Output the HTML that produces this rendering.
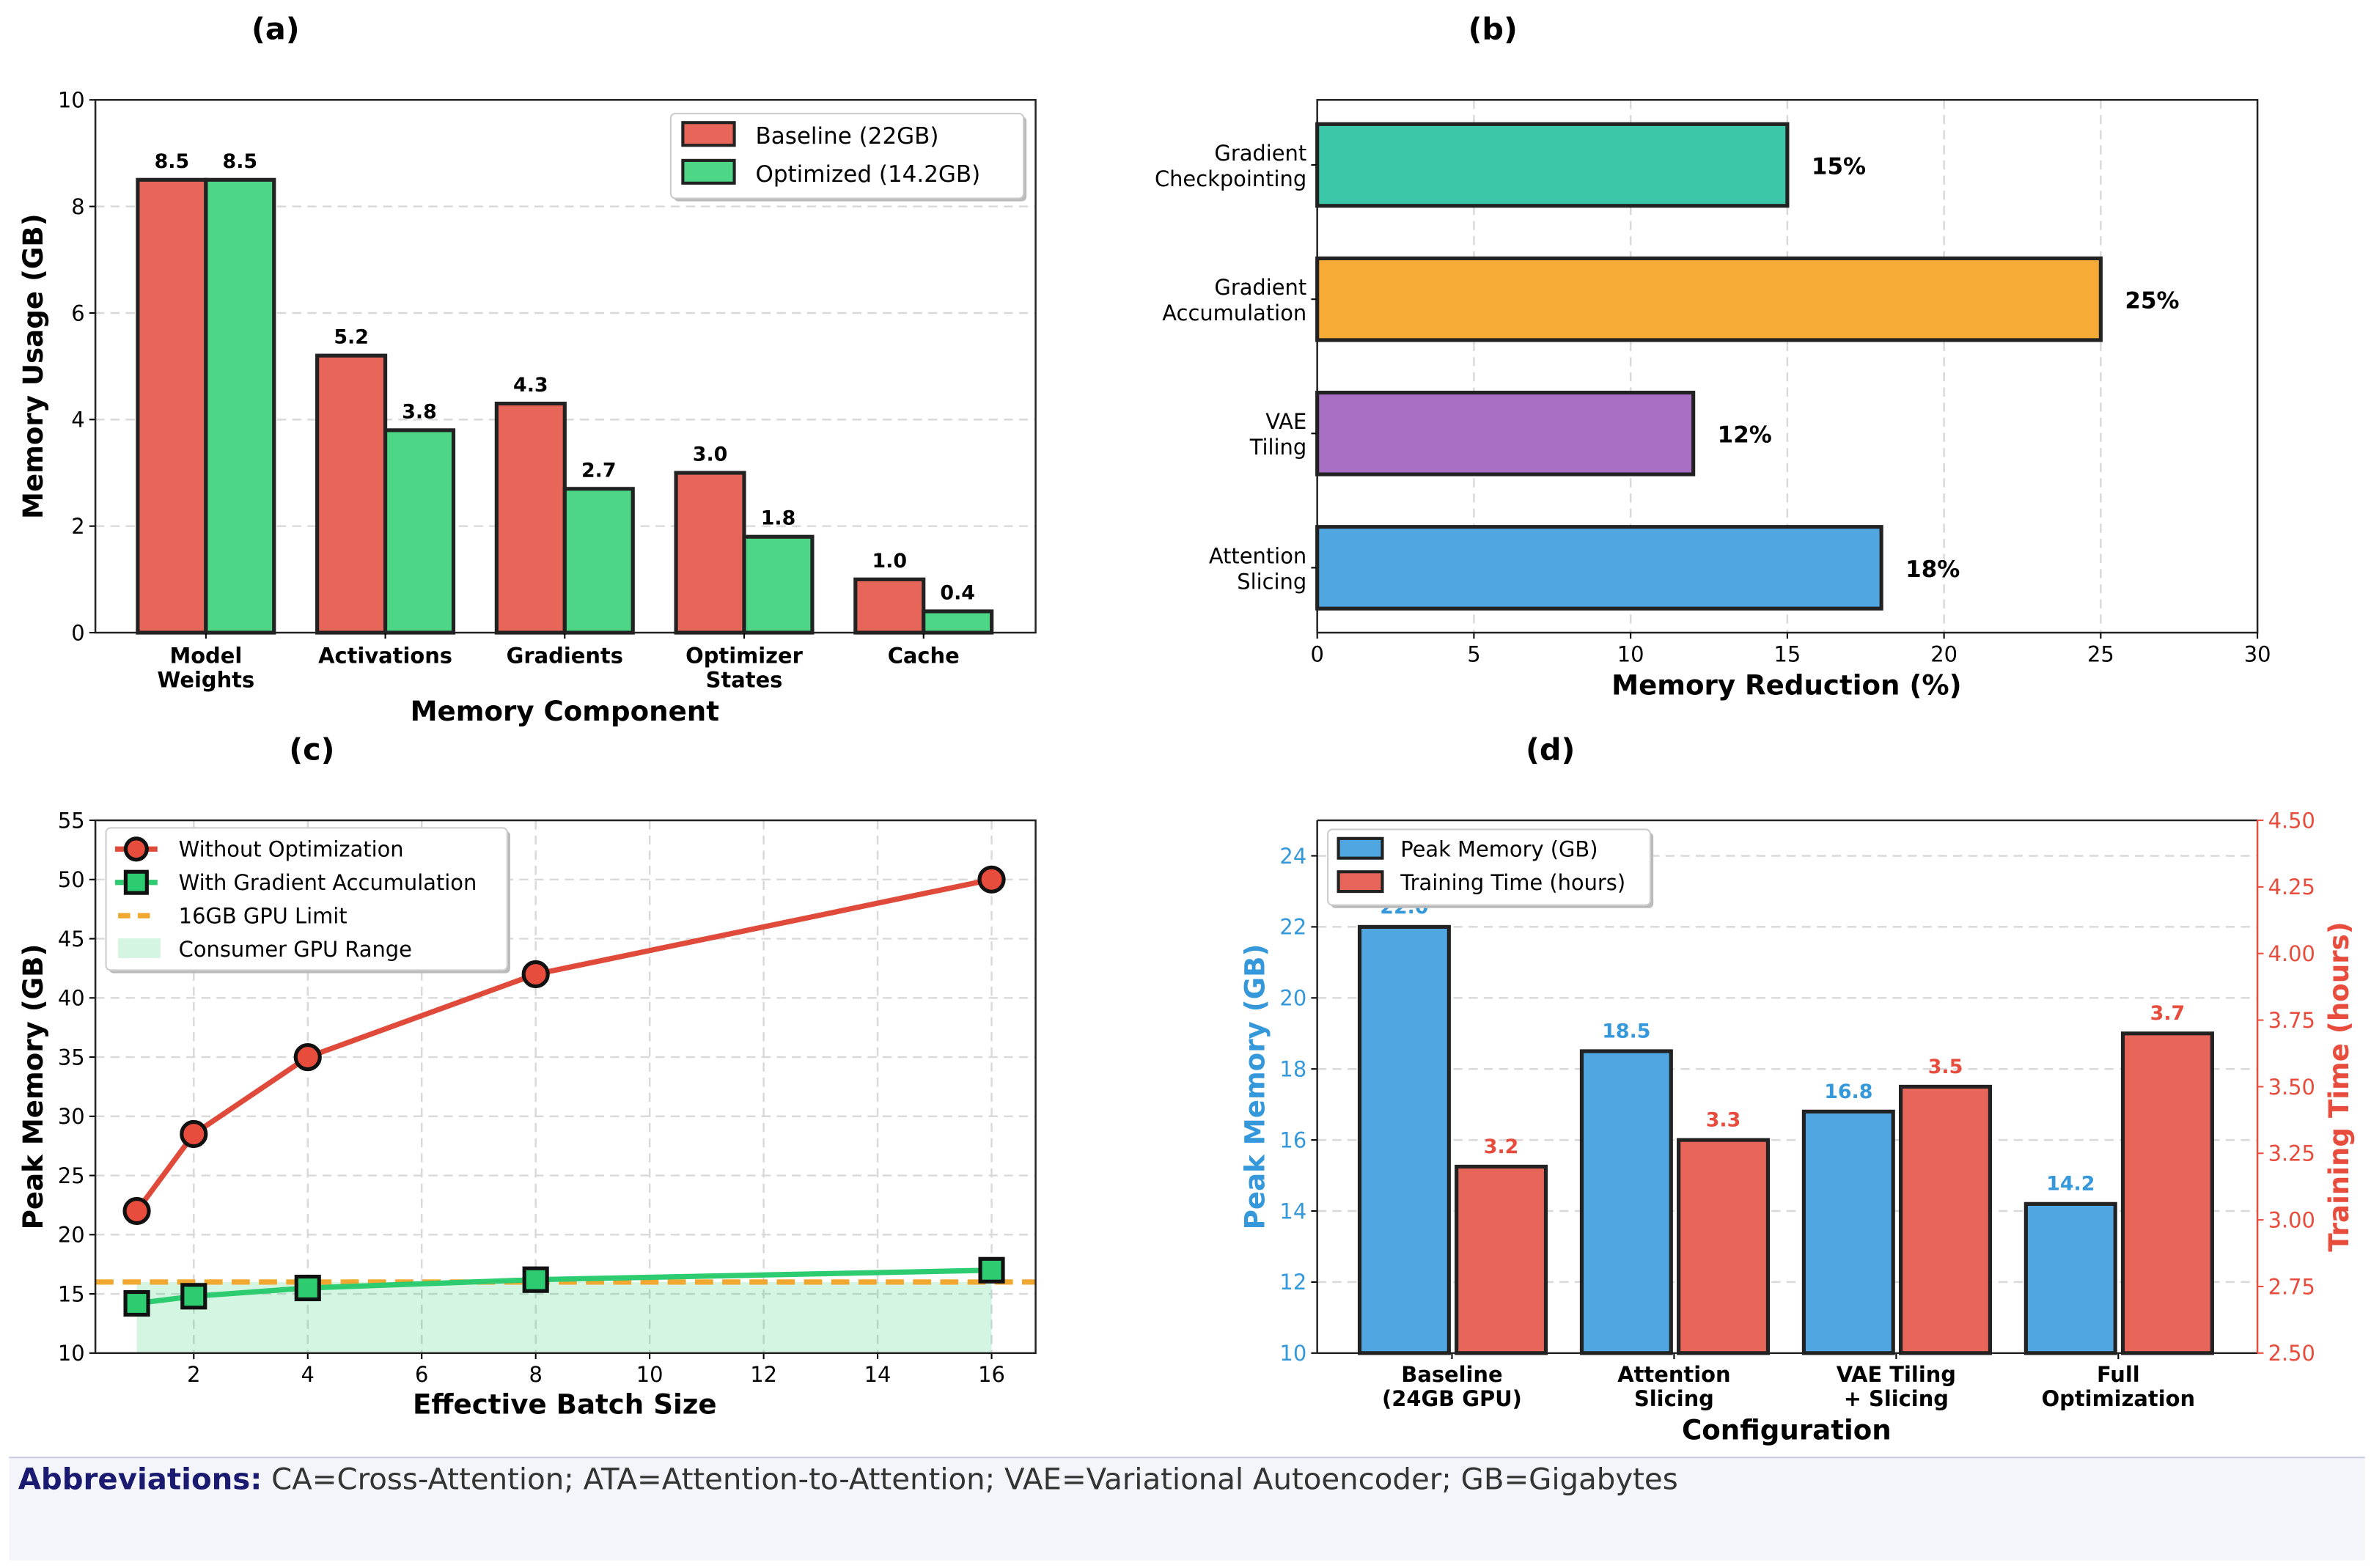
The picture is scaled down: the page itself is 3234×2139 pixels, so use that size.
<!DOCTYPE html>
<html><head><meta charset="utf-8"><style>
html,body{margin:0;padding:0;background:#fff;}
svg{display:block;font-family:"DejaVu Sans","Liberation Sans",sans-serif;}
</style></head><body>
<svg id="fig" width="3234" height="2139" viewBox="0 0 1566 1036" preserveAspectRatio="none" xmlns="http://www.w3.org/2000/svg">
<rect x="0" y="0" width="1566" height="1036" fill="#fff"/>
<rect x="6" y="963" width="1556" height="68" fill="#f4f5fa"/>
<line x1="6" y1="963" x2="1562" y2="963" stroke="#c5cbe0" stroke-width="1"/>
<text x="12" y="984" font-size="19.5" fill="#333"><tspan font-weight="bold" fill="#1a1a70">Abbreviations:</tspan> CA=Cross-Attention; ATA=Attention-to-Attention; VAE=Variational Autoencoder; GB=Gigabytes</text>
</svg>
<script>
// ---- Panel (a) data ----
const aCategories = ["Model|Weights","Activations","Gradients","Optimizer|States","Cache"];
const aBaseline = [8.5, 5.2, 4.3, 3.0, 1.0];
const aOptimized = [8.5, 3.8, 2.7, 1.8, 0.4];
const aTicks = [0,2,4,6,8,10];
// ---- Panel (b) data ----
const bCategories = ["Gradient|Checkpointing","Gradient|Accumulation","VAE|Tiling","Attention|Slicing"];
const bValues = [15, 25, 12, 18];
const bColors = ["#3cc8a8","#f5ab35","#a86fc4","#4fa6e0"];
const bTicks = [0,5,10,15,20,25,30];
// ---- Panel (c) data ----
const cBatch = [1, 2, 4, 8, 16];
const cWithout = [22, 28.5, 35, 42, 50];
const cWith = [14.2, 14.8, 15.5, 16.2, 17];
const cLimit = 16;
const cXTicks = [2,4,6,8,10,12,14,16];
const cYTicks = [10,15,20,25,30,35,40,45,50,55];
// ---- Panel (d) data ----
const dCategories = ["Baseline|(24GB GPU)","Attention|Slicing","VAE Tiling|+ Slicing","Full|Optimization"];
const dMemory = [22.0, 18.5, 16.8, 14.2];
const dTime = [3.2, 3.3, 3.5, 3.7];
const dLeftTicks = [10,12,14,16,18,20,22,24];
const dRightTicks = [2.5,2.75,3.0,3.25,3.5,3.75,4.0,4.25,4.5];

const svg = document.getElementById('fig');
const NS = 'http://www.w3.org/2000/svg';
function mk(tag, attrs, parent){const e=document.createElementNS(NS,tag);for(const k in attrs)e.setAttribute(k,attrs[k]);(parent||svg).appendChild(e);return e;}
function txt(x,y,s,attrs,parent){const t=mk('text',Object.assign({x:x,y:y},attrs),parent);t.textContent=s;return t;}
function multi(x,y,s,lh,attrs,parent){const parts=s.split('|');const g=mk('g',{},parent);parts.forEach((p,i)=>txt(x,y+i*lh,p,attrs,g));return g;}
const GRID='#d9d9d9';

// ================= Panel (a) =================
{
const L=63,R=684,T=66,B=418;
const ya=v=>B-(v/10)*(B-T);
const xa=i=>136+i*118.5;
const t=txt(182,26,'(a)',{'font-size':20,'font-weight':'bold','text-anchor':'middle'});


aTicks.forEach(v=>{
  if(v>0&&v<10){const g=mk('line',{x1:L,x2:R,y1:ya(v),y2:ya(v),stroke:GRID,'stroke-dasharray':'6,4','stroke-width':1.2});
  
  }
  mk('line',{x1:L-4,x2:L,y1:ya(v),y2:ya(v),stroke:'#000'});
  const tl=txt(L-7,ya(v)+5,String(v),{'font-size':14,'text-anchor':'end'});
  
  
});
aCategories.forEach((c,i)=>{
  const cx=xa(i);
  const r=mk('rect',{x:cx-45,y:ya(aBaseline[i]),width:45,height:B-ya(aBaseline[i]),fill:'#e8655a',stroke:'#222','stroke-width':2.5});
  
  
  const g=mk('rect',{x:cx,y:ya(aOptimized[i]),width:45,height:B-ya(aOptimized[i]),fill:'#4cd685',stroke:'#222','stroke-width':2.5});
  
  
  const l1=txt(cx-22.5,ya(aBaseline[i])-8,aBaseline[i].toFixed(1),{'font-size':13,'font-weight':'bold','text-anchor':'middle'});
  
  
  const l2=txt(cx+22.5,ya(aOptimized[i])-8,aOptimized[i].toFixed(1),{'font-size':13,'font-weight':'bold','text-anchor':'middle'});
  
  
  mk('line',{x1:cx,x2:cx,y1:B,y2:B+4,stroke:'#000'});
  const xl=multi(cx,438,c,16,{'font-size':14,'font-weight':'bold','text-anchor':'middle'});
  
  
});
const ax=mk('rect',{x:L,y:T,width:R-L,height:B-T,fill:'none',stroke:'#222','stroke-width':1.2});


const xt=txt(373,476,'Memory Component',{'font-size':18,'font-weight':'bold','text-anchor':'middle'});


const yt=txt(28,242,'Memory Usage (GB)',{'font-size':18,'font-weight':'bold','text-anchor':'middle',transform:'rotate(-90 28 242)'});


const lg=mk('g',{});


mk('rect',{x:445,y:77,width:233,height:56,fill:'#bbb',rx:3},lg);
mk('rect',{x:443,y:75,width:233,height:56,fill:'#fff',stroke:'#ccc',rx:3},lg);
mk('rect',{x:451,y:81,width:34,height:15,fill:'#e8655a',stroke:'#222','stroke-width':2},lg);
txt(499,95,'Baseline (22GB)',{'font-size':15},lg);
mk('rect',{x:451,y:106,width:34,height:15,fill:'#4cd685',stroke:'#222','stroke-width':2},lg);
txt(499,120,'Optimized (14.2GB)',{'font-size':15},lg);
}

// ================= Panel (b) =================
{
const L=870,R=1491,T=66,B=418;
const xb=v=>L+(v/30)*(R-L);
const yb=i=>109+i*88.7;
const t=txt(986,26,'(b)',{'font-size':20,'font-weight':'bold','text-anchor':'middle'});


bTicks.forEach(v=>{
  if(v>0&&v<30){const g=mk('line',{x1:xb(v),x2:xb(v),y1:T,y2:B,stroke:GRID,'stroke-dasharray':'6,4','stroke-width':1.2});
  
  }
  mk('line',{x1:xb(v),x2:xb(v),y1:B,y2:B+4,stroke:'#000'});
  const tl=txt(xb(v),437,String(v),{'font-size':14,'text-anchor':'middle'});
  
  
});
bCategories.forEach((c,i)=>{
  const cy=yb(i);
  const r=mk('rect',{x:L,y:cy-27,width:xb(bValues[i])-L,height:54,fill:bColors[i],stroke:'#222','stroke-width':2.5});
  
  
  const lb=txt(xb(bValues[i])+16,cy+6,bValues[i]+'%',{'font-size':15,'font-weight':'bold'});
  
  
  mk('line',{x1:L-4,x2:L,y1:cy,y2:cy,stroke:'#000'});
  const yl=multi(L-7,cy-3,c,17,{'font-size':14,'text-anchor':'end'});
  
  
});
const ax=mk('rect',{x:L,y:T,width:R-L,height:B-T,fill:'none',stroke:'#222','stroke-width':1.2});


const xt=txt(1180,459,'Memory Reduction (%)',{'font-size':18,'font-weight':'bold','text-anchor':'middle'});


}

// ================= Panel (c) =================
{
const L=63,R=684,T=542,B=894;
const xc=v=>52.7+v*37.64;
const yc=v=>B-((v-10)/45)*(B-T);
const t=txt(206,502,'(c)',{'font-size':20,'font-weight':'bold','text-anchor':'middle'});


cYTicks.forEach(v=>{
  if(v>10&&v<55){const g=mk('line',{x1:L,x2:R,y1:yc(v),y2:yc(v),stroke:GRID,'stroke-dasharray':'6,4','stroke-width':1.2});
  
  }
  mk('line',{x1:L-4,x2:L,y1:yc(v),y2:yc(v),stroke:'#000'});
  const tl=txt(L-7,yc(v)+5,String(v),{'font-size':14,'text-anchor':'end'});
  
  
});
cXTicks.forEach(v=>{
  const g=mk('line',{x1:xc(v),x2:xc(v),y1:T,y2:B,stroke:GRID,'stroke-dasharray':'6,4','stroke-width':1.2});
  
  
  mk('line',{x1:xc(v),x2:xc(v),y1:B,y2:B+4,stroke:'#000'});
  const tl=txt(xc(v),913,String(v),{'font-size':14,'text-anchor':'middle'});
  
  
});
const fill=mk('rect',{x:xc(cBatch[0]),y:yc(cLimit),width:xc(cBatch[cBatch.length-1])-xc(cBatch[0]),height:yc(10)-yc(cLimit),fill:'#2ecc71','fill-opacity':0.2});


const lim=mk('line',{x1:L,x2:R,y1:yc(cLimit),y2:yc(cLimit),stroke:'#f0a830','stroke-width':3.5,'stroke-dasharray':'12,6'});


const pr=mk('polyline',{points:cBatch.map((b,i)=>xc(b)+','+yc(cWithout[i])).join(' '),fill:'none',stroke:'#e04a3a','stroke-width':3.5});


const pg=mk('polyline',{points:cBatch.map((b,i)=>xc(b)+','+yc(cWith[i])).join(' '),fill:'none',stroke:'#2ecc71','stroke-width':3.5});


cBatch.forEach((b,i)=>{
  const c=mk('circle',{cx:xc(b),cy:yc(cWithout[i]),r:8,fill:'#e74c3c',stroke:'#111','stroke-width':2.5});
  
  
  const s=mk('rect',{x:xc(b)-7.5,y:yc(cWith[i])-7.5,width:15,height:15,fill:'#2ecc71',stroke:'#111','stroke-width':2.5});
  
  
});
const ax=mk('rect',{x:L,y:T,width:R-L,height:B-T,fill:'none',stroke:'#222','stroke-width':1.2});


const xt=txt(373,934,'Effective Batch Size',{'font-size':18,'font-weight':'bold','text-anchor':'middle'});


const yt=txt(28,718,'Peak Memory (GB)',{'font-size':18,'font-weight':'bold','text-anchor':'middle',transform:'rotate(-90 28 718)'});


const lg=mk('g',{});


mk('rect',{x:72,y:549,width:265,height:94,fill:'#bbb',rx:3},lg);
mk('rect',{x:70,y:547,width:265,height:94,fill:'#fff',stroke:'#ccc',rx:3},lg);
mk('line',{x1:76,x2:104,y1:561,y2:561,stroke:'#e04a3a','stroke-width':3.5},lg);
mk('circle',{cx:90,cy:561,r:7,fill:'#e74c3c',stroke:'#111','stroke-width':2.5},lg);
txt(118,566,'Without Optimization',{'font-size':14},lg);
mk('line',{x1:76,x2:104,y1:583,y2:583,stroke:'#2ecc71','stroke-width':3.5},lg);
mk('rect',{x:83,y:576,width:14,height:14,fill:'#2ecc71',stroke:'#111','stroke-width':2.5},lg);
txt(118,588,'With Gradient Accumulation',{'font-size':14},lg);
mk('line',{x1:78,x2:104,y1:605,y2:605,stroke:'#f0a830','stroke-width':3.5,'stroke-dasharray':'8,5'},lg);
txt(118,610,'16GB GPU Limit',{'font-size':14},lg);
mk('rect',{x:78,y:620,width:28,height:13,fill:'#2ecc71','fill-opacity':0.2},lg);
txt(118,632,'Consumer GPU Range',{'font-size':14},lg);
}

// ================= Panel (d) =================
{
const L=870,R=1491,T=542,B=894;
const yl=v=>B-((v-10)/15)*(B-T);
const yr=v=>B-((v-2.5)/2)*(B-T);
const gx=i=>959+i*146.7;
const t=txt(1024,502,'(d)',{'font-size':20,'font-weight':'bold','text-anchor':'middle'});


dLeftTicks.forEach(v=>{
  if(v>10){const g=mk('line',{x1:L,x2:R,y1:yl(v),y2:yl(v),stroke:GRID,'stroke-dasharray':'6,4','stroke-width':1.2});
  
  }
  mk('line',{x1:L-4,x2:L,y1:yl(v),y2:yl(v),stroke:'#000'});
  const tl=txt(L-7,yl(v)+5,String(v),{'font-size':14,'text-anchor':'end',fill:'#3498db'});
  
  
});
dRightTicks.forEach(v=>{
  mk('line',{x1:R,x2:R+4,y1:yr(v),y2:yr(v),stroke:'#e74c3c'});
  const tl=txt(R+7,yr(v)+5,v.toFixed(2),{'font-size':14,fill:'#e74c3c'});
  
  
});
dCategories.forEach((c,i)=>{
  const cx=gx(i);
  const b=mk('rect',{x:cx-61,y:yl(dMemory[i]),width:59,height:B-yl(dMemory[i]),fill:'#4fa6e0',stroke:'#222','stroke-width':2.5});
  
  
  const r=mk('rect',{x:cx+3,y:yr(dTime[i]),width:59,height:B-yr(dTime[i]),fill:'#e8655a',stroke:'#222','stroke-width':2.5});
  
  
  const l1=txt(cx-31.5,yl(dMemory[i])-9,dMemory[i].toFixed(1),{'font-size':13,'font-weight':'bold','text-anchor':'middle',fill:'#3498db'});
  
  
  const l2=txt(cx+32.5,yr(dTime[i])-9,dTime[i].toFixed(1),{'font-size':13,'font-weight':'bold','text-anchor':'middle',fill:'#e74c3c'});
  
  
  mk('line',{x1:cx,x2:cx,y1:B,y2:B+4,stroke:'#000'});
  const xl=multi(cx,913,c,16,{'font-size':14,'font-weight':'bold','text-anchor':'middle'});
  
  
});
mk('line',{x1:L,x2:R,y1:T,y2:T,stroke:'#222','stroke-width':1.2});
mk('line',{x1:L,x2:R,y1:B,y2:B,stroke:'#222','stroke-width':1.2});
mk('line',{x1:L,x2:L,y1:T,y2:B,stroke:'#222','stroke-width':1.2});
const ra=mk('line',{x1:R,x2:R,y1:T,y2:B,stroke:'#e74c3c','stroke-width':1.2});


const xt=txt(1180,951,'Configuration',{'font-size':18,'font-weight':'bold','text-anchor':'middle'});


const yt1=txt(835,718,'Peak Memory (GB)',{'font-size':18,'font-weight':'bold','text-anchor':'middle',fill:'#3498db',transform:'rotate(-90 835 718)'});


const yt2=txt(1551,718,'Training Time (hours)',{'font-size':18,'font-weight':'bold','text-anchor':'middle',fill:'#e74c3c',transform:'rotate(-90 1551 718)'});


const lg=mk('g',{});


mk('rect',{x:879,y:550,width:213,height:50,fill:'#bbb',rx:3},lg);
mk('rect',{x:877,y:548,width:213,height:50,fill:'#fff',stroke:'#ccc',rx:3},lg);
mk('rect',{x:884,y:554,width:29,height:13,fill:'#4fa6e0',stroke:'#222','stroke-width':2},lg);
txt(925,566,'Peak Memory (GB)',{'font-size':14},lg);
mk('rect',{x:884,y:576,width:29,height:13,fill:'#e8655a',stroke:'#222','stroke-width':2},lg);
txt(925,588,'Training Time (hours)',{'font-size':14},lg);
}
</script>
</body></html>
